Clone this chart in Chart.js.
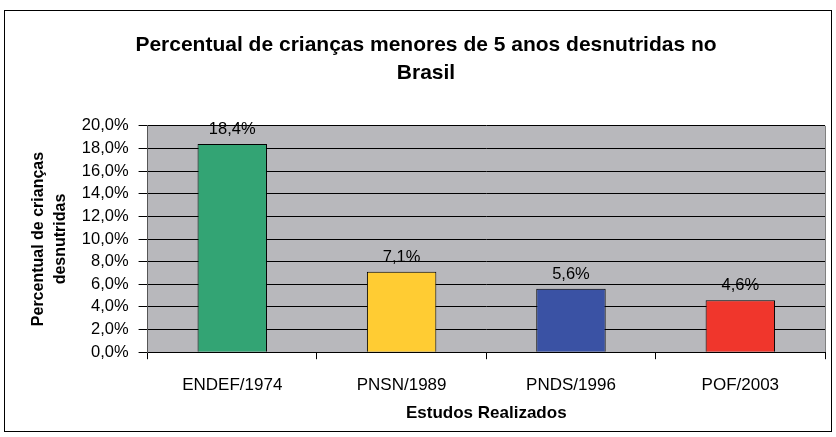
<!DOCTYPE html>
<html>
<head>
<meta charset="utf-8">
<script src="https://cdn.jsdelivr.net/npm/chart.js@4.4.0/dist/chart.umd.min.js"></script>
<style>
  html, body { margin: 0; padding: 0; background: #fff; }
  #wrap { width: 836px; height: 437px; position: relative; }
</style>
</head>
<body>
<div id="wrap"><canvas id="chart" width="836" height="437"></canvas></div>
<script>
// dados
const categories = ['ENDEF/1974', 'PNSN/1989', 'PNDS/1996', 'POF/2003'];
const values = [18.4, 7.1, 5.6, 4.6];
const barColors = ['#33A474', '#FFCC33', '#3A52A4', '#F0362C'];
const yTicks = [0, 2, 4, 6, 8, 10, 12, 14, 16, 18, 20];

const FONT = '"Liberation Sans", Arial, sans-serif';
const fmt = v => v.toFixed(1).replace('.', ',') + '%';

// fundo cinza da área do gráfico + moldura externa
const frame = {
  id: 'frame',
  beforeDraw(chart) {
    const c = chart.ctx, a = chart.chartArea;
    c.save();
    c.fillStyle = '#fff';
    c.fillRect(0, 0, chart.width, chart.height);
    c.strokeStyle = '#000';
    c.lineWidth = 1;
    c.strokeRect(4.5, 10.5, 827, 421);
    c.fillStyle = '#B8B8BC';
    c.fillRect(a.left, a.top, a.right - a.left, a.bottom - a.top);
    c.strokeStyle = '#808080';
    c.beginPath();
    c.moveTo(a.right + 0.5, a.top);
    c.lineTo(a.right + 0.5, a.bottom);
    c.stroke();
    c.restore();
  }
};

// rótulos de valor acima das barras
const valueLabels = {
  id: 'valueLabels',
  afterDatasetsDraw(chart) {
    const c = chart.ctx;
    const meta = chart.getDatasetMeta(0);
    c.save();
    c.font = '16.5px ' + FONT;
    c.fillStyle = '#000';
    c.textAlign = 'center';
    c.textBaseline = 'alphabetic';
    meta.data.forEach((bar, i) => {
      c.fillText(fmt(values[i]), bar.x, bar.y - 10);
    });
    c.restore();
  }
};

new Chart(document.getElementById('chart'), {
  type: 'bar',
  data: {
    labels: categories,
    datasets: [{
      data: values,
      backgroundColor: barColors,
      borderColor: '#000',
      borderWidth: 1,
      categoryPercentage: 1,
      barPercentage: 0.41
    }]
  },
  options: {
    responsive: false,
    animation: false,
    layout: { padding: { left: 27, right: 11, top: 0, bottom: 18 } },
    plugins: {
      legend: { display: false },
      tooltip: { enabled: false },
      title: {
        display: true,
        text: ['Percentual de crianças menores de 5 anos desnutridas no', 'Brasil'],
        color: '#000',
        font: { family: FONT, size: 21, weight: 'bold', lineHeight: 1.33 },
        padding: { top: 31, bottom: 39 }
      }
    },
    scales: {
      x: {
        grid: { display: true, offset: true, drawOnChartArea: false, color: '#000', tickLength: 7 },
        border: { color: '#000' },
        ticks: { color: '#000', padding: 16, font: { family: FONT, size: 17 } },
        title: {
          display: true, text: 'Estudos Realizados', color: '#000',
          font: { family: FONT, size: 17, weight: 'bold', lineHeight: 0.2 },
          padding: { top: 0 }
        }
      },
      y: {
        min: 0, max: 20,
        afterBuildTicks(axis) { axis.ticks = yTicks.map(v => ({ value: v })); },
        grid: { color: '#000', tickLength: 9 },
        border: { color: '#555' },
        ticks: { color: '#000', padding: 10, autoSkip: false, callback: v => fmt(v), font: { family: FONT, size: 16.5 } },
        title: {
          display: true, text: ['Percentual de crianças', 'desnutridas'], color: '#000',
          font: { family: FONT, size: 16, weight: 'bold', lineHeight: 1.4 },
          padding: { top: 0, bottom: 0 }
        }
      }
    }
  },
  plugins: [frame, valueLabels]
});
</script>
</body>
</html>
